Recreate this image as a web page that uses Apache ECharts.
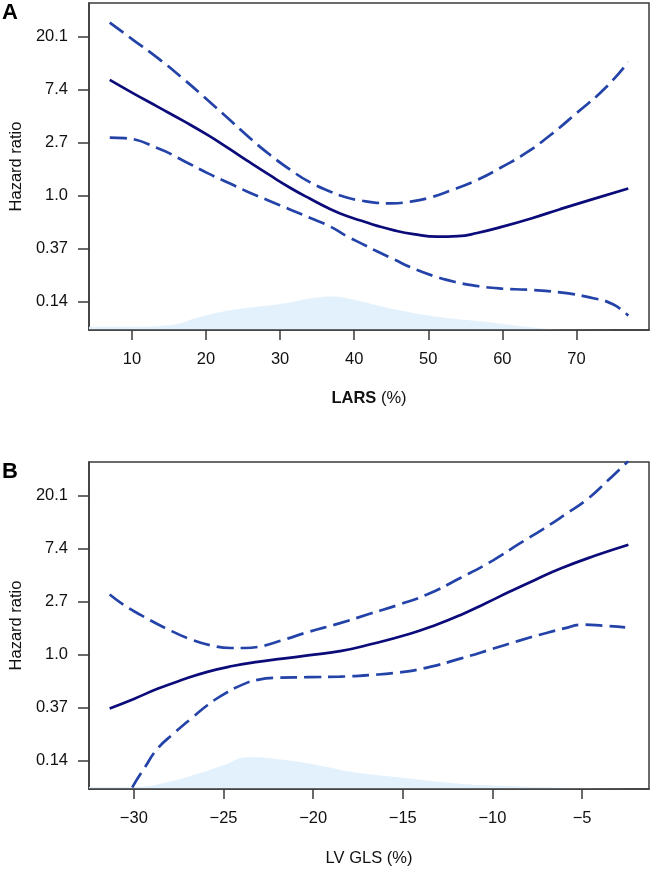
<!DOCTYPE html>
<html><head><meta charset="utf-8">
<script src="https://cdn.jsdelivr.net/npm/echarts@6/dist/echarts.min.js"></script>
<style>html,body{margin:0;padding:0;background:#fff}#c{width:652px;height:874px}</style>
</head><body><div id="c"></div>
<script>
// Y axis is ln(hazard ratio); tick labels show exp(k)
const yTickValues = [-2, -1, 0, 1, 2, 3];
const yTickLabels = ['0.14', '0.37', '1.0', '2.7', '7.4', '20.1'];
const yMin = -2.53, yMax = 3.64;

// Panel A: LARS (%)
const larsTicks = [10, 20, 30, 40, 50, 60, 70];
const larsSolidX = [7, 10, 13.5, 17, 20.2, 23, 25.6, 28.5, 31.4, 34, 36.8, 39, 41, 43, 45.4, 48, 51.2, 54, 56.6, 60, 64, 67.8, 72, 77];
const larsSolidY = [2.19, 1.95, 1.68, 1.41, 1.15, 0.90, 0.66, 0.40, 0.15, -0.05, -0.25, -0.38, -0.47, -0.56, -0.65, -0.72, -0.77, -0.76, -0.70, -0.58, -0.42, -0.25, -0.07, 0.14];
const larsUpperX = [7, 10, 13.5, 17, 20.2, 23, 25.6, 28.5, 31.4, 34, 36.8, 39, 41, 43, 45, 47.5, 50, 53, 56.6, 60, 63.3, 66.5, 70, 74, 77];
const larsUpperY = [3.27, 2.96, 2.60, 2.20, 1.81, 1.46, 1.13, 0.79, 0.49, 0.26, 0.08, -0.03, -0.09, -0.13, -0.14, -0.11, -0.04, 0.10, 0.30, 0.55, 0.82, 1.15, 1.56, 2.05, 2.53];
const larsLowerX = [7, 9, 13.5, 17, 20.2, 23, 25.6, 28.5, 31.4, 34, 36.8, 39, 41, 43, 45.4, 48, 50.7, 53.5, 56.6, 60, 63.3, 67.8, 72.3, 75, 77];
const larsLowerY = [1.10, 1.09, 0.90, 0.66, 0.43, 0.25, 0.08, -0.09, -0.26, -0.41, -0.58, -0.76, -0.90, -1.04, -1.20, -1.37, -1.51, -1.62, -1.70, -1.75, -1.77, -1.82, -1.93, -2.05, -2.26];
const larsDensX = [4.2, 10, 15, 19.3, 23.7, 30, 35.5, 37, 39.9, 44.5, 51.2, 58, 64.7, 70, 79.8];
const larsDensH = [0.06, 0.06, 0.09, 0.25, 0.38, 0.49, 0.62, 0.63, 0.57, 0.42, 0.25, 0.15, 0.04, 0.01, 0.0];

// Panel B: LV GLS (%)
const glsTicks = [-30, -25, -20, -15, -10, -5];
const glsTickLabels = ['\u221230', '\u221225', '\u221220', '\u221215', '\u221210', '\u22125'];
const glsSolidX = [-31.35, -30, -28.68, -27.3, -25.9, -24.5, -23.1, -21.7, -20.3, -18.5, -16.8, -14.6, -13.2, -11.8, -10.4, -9.0, -7.6, -6.2, -4.3, -2.42];
const glsSolidY = [-1.01, -0.83, -0.64, -0.47, -0.32, -0.21, -0.13, -0.07, -0.01, 0.07, 0.20, 0.40, 0.56, 0.75, 0.97, 1.20, 1.42, 1.63, 1.87, 2.08];
const glsUpperX = [-31.35, -30.5, -29.6, -28.2, -26.8, -25.7, -24.6, -23.8, -23.1, -21.7, -20.3, -18.5, -16.8, -15.2, -13.65, -11.8, -9.94, -8.5, -7.15, -5.9, -4.74, -3.6, -2.42];
const glsUpperY = [1.14, 0.93, 0.75, 0.50, 0.29, 0.18, 0.13, 0.13, 0.15, 0.28, 0.43, 0.60, 0.78, 0.95, 1.14, 1.45, 1.79, 2.10, 2.38, 2.66, 2.93, 3.28, 3.66];
const glsLowerX = [-31.35, -30.07, -29.4, -28.68, -27.7, -26.8, -25.9, -24.97, -24, -23.1, -22, -20.3, -18.5, -16.8, -15.2, -13.65, -11.8, -9.94, -8.5, -7.15, -6, -5.0, -3.8, -2.6];
const glsLowerY = [-3.3, -2.49, -2.13, -1.77, -1.46, -1.20, -0.95, -0.74, -0.57, -0.47, -0.43, -0.42, -0.41, -0.38, -0.33, -0.24, -0.07, 0.12, 0.27, 0.40, 0.50, 0.57, 0.55, 0.52];
const glsDensX = [-32.5, -30, -28.1, -26.3, -25, -23.6, -21.65, -19.3, -17.8, -15, -12.2, -9.4, -6.6, -1.27];
const glsDensH = [0.04, 0.04, 0.13, 0.30, 0.45, 0.60, 0.55, 0.42, 0.32, 0.21, 0.11, 0.06, 0.03, 0.01];

const FONT = '"Liberation Sans", Arial, Helvetica, sans-serif';
const TXT = '#111';
const FRAME = '#3a3a3a';
const SOLID = '#0b0b7a';
const DASH = '#2443a8';
const FILL = '#e3f1fc';
const FS = 16.5;

const zip = (xs, ys) => xs.map((x, i) => [x, ys[i]]);

function lineSeries(idx, xs, ys, color, dashed, z) {
  return {
    type: 'line', xAxisIndex: idx, yAxisIndex: idx, data: zip(xs, ys),
    smooth: 0.5, symbol: 'none', clip: true, z: z,
    lineStyle: { color: color, width: 2.7, type: dashed ? [17, 7] : 'solid', cap: 'butt' }
  };
}
function densSeries(idx, xs, hs) {
  return {
    type: 'line', xAxisIndex: idx, yAxisIndex: idx,
    data: xs.map((x, i) => [x, yMin + hs[i]]),
    smooth: 0.5, symbol: 'none', z: 1,
    lineStyle: { width: 0 },
    areaStyle: { color: FILL, origin: 'start', opacity: 1 }
  };
}
function yAxis(idx) {
  return {
    gridIndex: idx, type: 'value', min: yMin, max: yMax, position: 'left',
    axisLine: { show: true, onZero: false, lineStyle: { color: FRAME, width: 1.5 } }, splitLine: { show: false },
    axisTick: { show: true, inside: false, length: 11, customValues: yTickValues, lineStyle: { color: FRAME, width: 1.5 } },
    axisLabel: { customValues: yTickValues, margin: 21, fontSize: FS, color: TXT, fontFamily: FONT,
      formatter: v => yTickLabels[yTickValues.indexOf(Math.round(v))] },
    name: 'Hazard ratio', nameLocation: 'middle', nameRotate: 90, nameGap: 63,
    nameTextStyle: { fontSize: FS, color: TXT, fontFamily: FONT }
  };
}
function xAxis(idx, min, max, ticks, labels, name, gap, rich) {
  return {
    gridIndex: idx, type: 'value', min: min, max: max, position: 'bottom', z: 10,
    axisLine: { show: true, onZero: false, lineStyle: { color: FRAME, width: 1.5 } }, splitLine: { show: false },
    axisTick: { show: true, inside: false, length: 10, customValues: ticks, lineStyle: { color: FRAME, width: 1.5 } },
    axisLabel: { customValues: ticks, margin: 21, fontSize: FS, color: TXT, fontFamily: FONT,
      formatter: v => labels[ticks.indexOf(Math.round(v))] },
    name: name, nameLocation: 'middle', nameGap: gap,
    nameTextStyle: { fontSize: FS, color: TXT, fontFamily: FONT, rich: rich }
  };
}
function gridBox(top) {
  return { left: 88, top: top, width: 561, height: 327, show: true, borderColor: FRAME, borderWidth: 1.5, backgroundColor: 'transparent' };
}

const chart = echarts.init(document.getElementById('c'), null, { renderer: 'canvas' });
chart.setOption({
  animation: false,
  backgroundColor: '#fff',
  textStyle: { fontFamily: FONT },
  grid: [gridBox(3), gridBox(462)],
  xAxis: [
    xAxis(0, 4.2, 79.8, larsTicks, larsTicks.map(String), '{b|LARS} (%)', 60,
      { b: { fontWeight: 'bold', fontSize: FS, color: TXT, fontFamily: FONT } }),
    xAxis(1, -32.5, -1.27, glsTicks, glsTickLabels, 'LV GLS (%)', 61, {})
  ],
  yAxis: [yAxis(0), yAxis(1)],
  graphic: [
    { type: 'text', left: 2, top: 2, style: { text: 'A', font: 'bold 22px ' + FONT, fill: '#000' } },
    { type: 'text', left: 2, top: 461, style: { text: 'B', font: 'bold 22px ' + FONT, fill: '#000' } }
  ],
  series: [
    densSeries(0, larsDensX, larsDensH),
    lineSeries(0, larsLowerX, larsLowerY, DASH, true, 3),
    lineSeries(0, larsUpperX, larsUpperY, DASH, true, 3),
    lineSeries(0, larsSolidX, larsSolidY, SOLID, false, 4),
    densSeries(1, glsDensX, glsDensH),
    lineSeries(1, glsLowerX, glsLowerY, DASH, true, 3),
    lineSeries(1, glsUpperX, glsUpperY, DASH, true, 3),
    lineSeries(1, glsSolidX, glsSolidY, SOLID, false, 4)
  ]
});
</script></body></html>
